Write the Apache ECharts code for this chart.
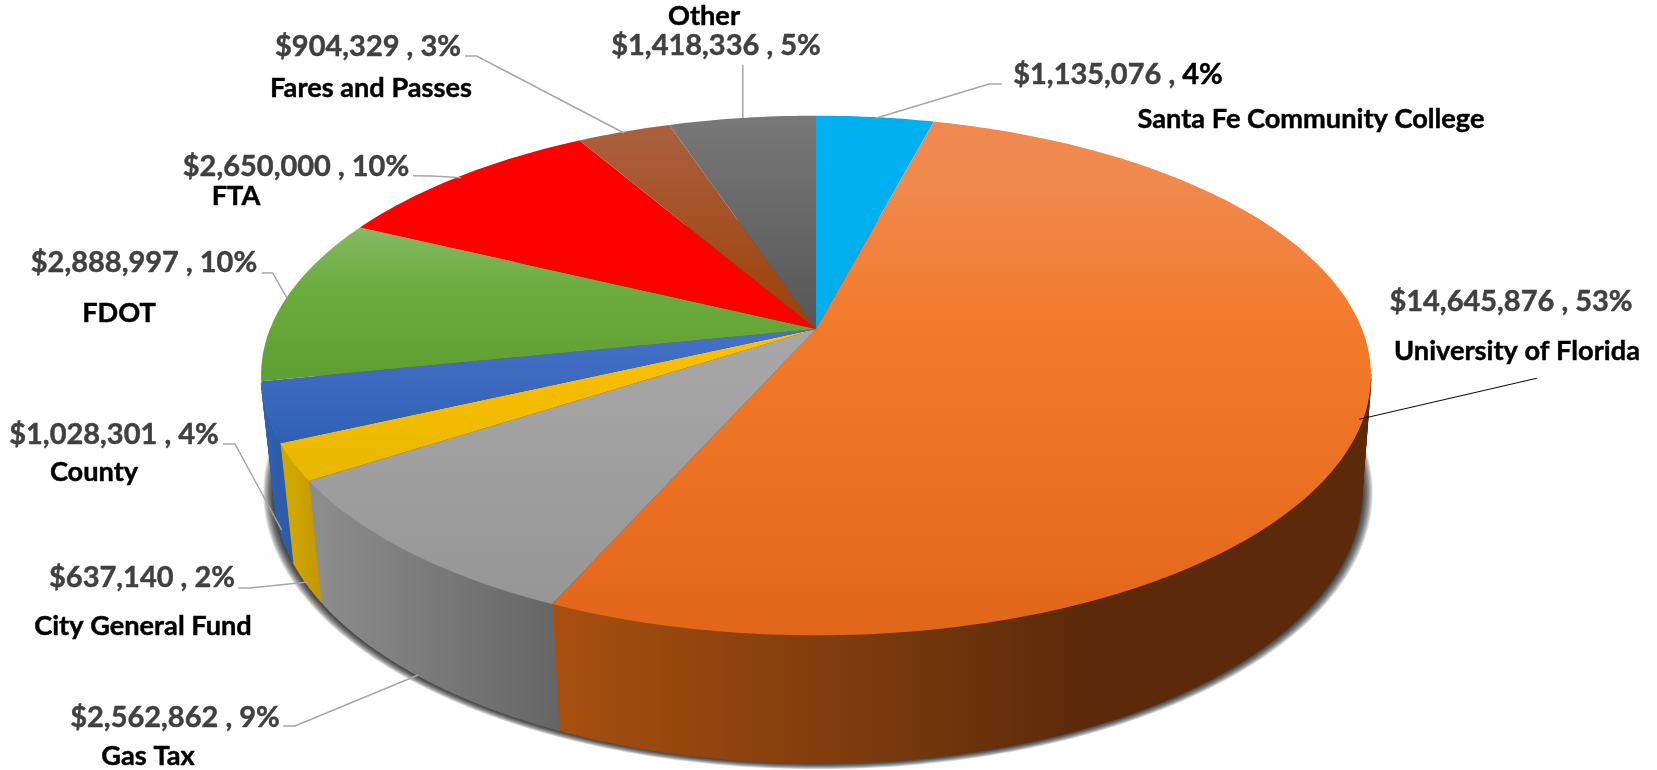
<!DOCTYPE html>
<html><head><meta charset="utf-8">
<style>html,body{margin:0;padding:0;background:#fff}#c{width:1657px;height:770px}</style>
<script src="https://cdn.jsdelivr.net/npm/echarts@6/dist/echarts.min.js"></script>
</head><body><div id="c"></div>
<script>
// ---- data ----
const categories = ['Santa Fe Community College','University of Florida','Gas Tax','City General Fund','County','FDOT','FTA','Fares and Passes','Other'];
const amounts = [1135076,14645876,2562862,637140,1028301,2888997,2650000,904329,1418336];
const percents = [4,53,9,2,4,10,10,3,5];

// ---- styles ----
const topStops = [
  [[0,'#00b0f0'],[1,'#00aeee']],
  [[0,'#ef8a50'],[0.12,'#f0894e'],[0.4,'#f37a2b'],[1,'#e2661a']],
  [[0,'#a8a8a8'],[1,'#969696']],
  [[0,'#ffc000'],[1,'#e8b800']],
  [[0,'#4472c8'],[1,'#3060b4']],
  [[0,'#84b964'],[0.4,'#6cab3e'],[1,'#5f9e30']],
  [[0,'#ff0000'],[1,'#fd0000']],
  [[0,'#aa6140'],[1,'#9e4006']],
  [[0,'#787878'],[1,'#565656']]
];
const wallStops = [
  [0,['#007aa8','#007aa8'],0,1],
  [552,['#a85010','#5c2a0a'],1085,1],
  [322,['#8c8c8c','#656565'],559,1],
  [294,['#d0a600','#c09600'],322,1],
  [262,['#2f60b0','#2c5aa6'],294,1],
  [262,['#4a7a2c','#4a7a2c'],300,1],
  [300,['#a00000','#a00000'],600,1],
  [600,['#6e2d04','#6e2d04'],700,1],
  [700,['#444444','#444444'],800,1]
];
// perspective of the pie's top and bottom rims
const topRim = {cx:816, cy:329, a:546, b:251.5, k:-0.179};
const botRim = {cx:818, cy:443, a:535, b:263, k:-0.179};
// the part of the rim that faces the viewer
const wallFrom = 100, wallTo = 258;
// soft shadow under the pie
const shadowLayers = 12, shadowAlpha = 0.1, shadowSpreadX = 11, shadowSpreadY = 6;
// label and leader layout
const valueFont = 29, nameFont = 27.2, textWeight = 0.45;
const labelLayout = [
  {v:[1118,75], n:[1311,119], line:[[1001.6,84],[989,84],[876.5,118]]},
  {v:[1511,302], n:[1517,351], line:[[1536.7,378.3],[1359.3,419.3]], dark:true},
  {v:[175,718], n:[148,756], line:[[283.3,726],[295,726],[418.3,675]]},
  {v:[142,578], n:[143,626], line:[[238.3,588],[250,588],[308.3,582]]},
  {v:[114,435], n:[94,472], line:[[223,444],[235,444],[281.7,530]]},
  {v:[144,263], n:[119,313], line:[[261.7,273],[272.7,273],[286.7,297.7]]},
  {v:[296,167], n:[236,196], line:[[413,175.7],[433,176],[460.7,177.7]]},
  {v:[368,47], n:[371,88], line:[[465,56],[476.7,56],[624,133]]},
  {v:[716,46], n:[704,16], line:[[742.8,65],[742.8,118]]}
];
const family = 'Lato, "Open Sans", sans-serif';

// ---- geometry from the values ----
const total = amounts.reduce((s,v)=>s+v,0);
const startDeg = [];
amounts.reduce((s,v,i)=>{startDeg[i]=s/total*360;return s+v;},0);
function rimPoint(r,deg){
  const t=deg*Math.PI/180, X=Math.sin(t), Y=-Math.cos(t), d=1+r.k*Y;
  return [r.cx+r.a*X/d, r.cy+r.b*Y/d];
}
function arc(r,d0,d1){
  const n=Math.max(2,Math.ceil((d1-d0)/1)), pts=[];
  for(let i=0;i<=n;i++) pts.push(rimPoint(r,d0+(d1-d0)*i/n));
  return pts;
}
const Grad = echarts.graphic.LinearGradient;
function span(i){const v=amounts[i]/total*360;return [startDeg[i],startDeg[i]+v];}

const renderShadow = () => {
  const rim = arc(botRim,0,360), children=[];
  const halfW = botRim.a/Math.sqrt(1-botRim.k*botRim.k), halfH = botRim.b/(1+botRim.k);
  for(let j=shadowLayers;j>=1;j--){
    const sx=1+(j/shadowLayers)*shadowSpreadX/halfW, sy=1+(j/shadowLayers)*shadowSpreadY/halfH;
    const pts=rim.map(p=>[botRim.cx+(p[0]-botRim.cx)*sx, botRim.cy+(p[1]-botRim.cy)*sy]);
    children.push({type:'polygon',shape:{points:pts},style:{fill:'rgba(0,0,0,'+shadowAlpha+')'}});
  }
  return {type:'group',children};
};
const renderWall = (params) => {
  const i=params.dataIndex, s=span(i), d0=Math.max(s[0],wallFrom), d1=Math.min(s[1],wallTo);
  if(d1<=d0) return {type:'group',children:[]};
  const A=arc(topRim,d0,d1), B=arc(botRim,d0,d1);
  const w=wallStops[i];
  const g=new Grad(w[0],0,w[2],0,[{offset:0,color:w[1][0]},{offset:1,color:w[1][1]}],true);
  const children=[{type:'polygon',shape:{points:A.concat(B.slice().reverse())},style:{fill:g}}];
  for(let j=0;j<A.length-1;j++){
    children.push({type:'polygon',shape:{points:[A[j],A[j+1],B[j+1],B[j]]},style:{fill:g,stroke:g,lineWidth:0.6}});
  }
  return {type:'group',children};
};
const renderTop = (params) => {
  const i=params.dataIndex, [d0,d1]=span(i);
  const pts=[[topRim.cx,topRim.cy]].concat(arc(topRim,d0,d1));
  const g=new Grad(0,0,0,1,topStops[i].map(s=>({offset:s[0],color:s[1]})));
  return {type:'polygon',shape:{points:pts},style:{fill:g}};
};
const money = v => '$'+v.toLocaleString('en-US');
const renderLabel = (params) => {
  const i=params.dataIndex, L=labelLayout[i], children=[];
  children.push({type:'polyline',shape:{points:L.line},style:{fill:null,stroke:L.dark?'#111111':'#a6a6a6',lineWidth:L.dark?1.1:1.5}});
  const val = i===0
    ? {text:'{a|'+money(amounts[i])+' , }{b|'+percents[i]+'%}',rich:{
        a:{fontFamily:family,fontSize:valueFont,fontWeight:700,fill:'#404040',stroke:'#404040',lineWidth:textWeight},
        b:{fontFamily:family,fontSize:valueFont,fontWeight:700,fill:'#000',stroke:'#000',lineWidth:textWeight}}}
    : {text:money(amounts[i])+' , '+percents[i]+'%',fontFamily:family,fontSize:valueFont,fontWeight:700,fill:'#404040',stroke:'#404040',lineWidth:textWeight};
  children.push({type:'text',x:L.v[0],y:L.v[1],style:Object.assign(val,{align:'center',verticalAlign:'middle'})});
  children.push({type:'text',x:L.n[0],y:L.n[1],style:{text:categories[i],fontFamily:family,fontSize:nameFont,fontWeight:700,fill:'#000',stroke:'#000',lineWidth:textWeight,align:'center',verticalAlign:'middle'}});
  return {type:'group',children};
};

const chart = echarts.init(document.getElementById('c'),null,{renderer:'canvas'});
const rows = amounts.map((v,i)=>({name:categories[i],value:v}));
chart.setOption({
  animation:false,
  backgroundColor:'#ffffff',
  tooltip:{show:false},
  series:[
    {type:'custom',coordinateSystem:'none',silent:true,z:1,data:[total],renderItem:renderShadow},
    {type:'custom',coordinateSystem:'none',silent:true,z:2,data:rows,renderItem:renderWall},
    {type:'custom',coordinateSystem:'none',silent:true,z:3,data:rows,renderItem:renderTop},
    {type:'custom',coordinateSystem:'none',silent:true,z:4,data:rows,renderItem:renderLabel}
  ]
});
</script></body></html>
